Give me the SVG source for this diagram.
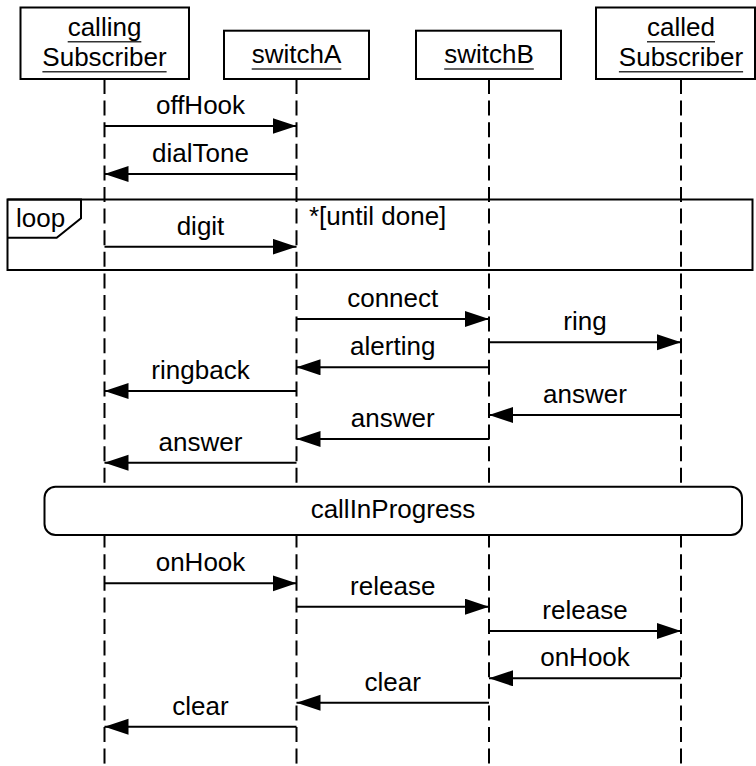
<svg xmlns="http://www.w3.org/2000/svg" width="756" height="766" viewBox="0 0 756 766">
  <style>
    text { font-family: "Liberation Sans", Arial, sans-serif; font-size: 26px; fill: #000; }
    .c { text-anchor: middle; }
    .box { fill: #fff; stroke: #000; stroke-width: 2; }
    .ul { stroke: #333; stroke-width: 1.5; }
    .life { stroke: #000; stroke-width: 2; stroke-dasharray: 15 6.6; fill: none; }
    .msg { stroke: #000; stroke-width: 2; fill: none; marker-end: url(#head); }
    .frame { fill: none; stroke: #000; stroke-width: 2; }
  </style>
  <defs>
    <marker id="head" markerUnits="userSpaceOnUse" markerWidth="26" markerHeight="18" refX="24" refY="8" orient="auto">
      <path d="M0,0 L24,8 L0,16 Z" fill="#000"/>
    </marker>
  </defs>

  <!-- lifelines -->
  <g id="lifelines">
    <line class="life" x1="104.5" y1="79" x2="104.5" y2="766"/>
    <line class="life" x1="296.5" y1="79" x2="296.5" y2="766"/>
    <line class="life" x1="489" y1="79" x2="489" y2="766"/>
    <line class="life" x1="681" y1="79" x2="681" y2="766"/>
  </g>

  <!-- participants -->
  <g id="callingSubscriber">
    <rect class="box" x="20.5" y="7.5" width="168.5" height="71.5"/>
    <text class="c" x="104.5" y="36">calling</text>
    <line class="ul" x1="67.7" y1="41.7" x2="141.3" y2="41.7"/>
    <text class="c" x="104.5" y="66">Subscriber</text>
    <line class="ul" x1="42.4" y1="71.7" x2="166.6" y2="71.7"/>
  </g>
  <g id="switchA">
    <rect class="box" x="224" y="30.7" width="145" height="48.3"/>
    <text class="c" x="296.5" y="63">switchA</text>
    <line class="ul" x1="251.7" y1="69" x2="341.3" y2="69"/>
  </g>
  <g id="switchB">
    <rect class="box" x="416" y="30.7" width="145" height="48.3"/>
    <text class="c" x="489" y="63">switchB</text>
    <line class="ul" x1="444.2" y1="69" x2="533.8" y2="69"/>
  </g>
  <g id="calledSubscriber">
    <rect class="box" x="596" y="7.5" width="159" height="71.5"/>
    <text class="c" x="681" y="36">called</text>
    <line class="ul" x1="647" y1="41.7" x2="715" y2="41.7"/>
    <text class="c" x="681" y="66">Subscriber</text>
    <line class="ul" x1="618.9" y1="71.7" x2="743.1" y2="71.7"/>
  </g>

  <!-- combined fragment: loop -->
  <g id="loopFragment">
    <rect class="frame" x="7.5" y="199.5" width="745" height="70.5"/>
    <path class="frame" d="M7.5,199.5 H81 V218.3 L56.7,237.7 H7.5"/>
    <text x="16" y="227">loop</text>
    <text x="309" y="225">*[until done]</text>
  </g>

  <!-- state invariant across all lifelines -->
  <g id="callInProgress">
    <rect class="box" x="44.5" y="486.7" width="697.5" height="48.3" rx="11" ry="11"/>
    <text class="c" x="393" y="518">callInProgress</text>
  </g>

  <!-- messages -->
  <g id="connectors">
    <line class="msg" x1="104.5" y1="126" x2="296.5" y2="126"/>
    <line class="msg" x1="296.5" y1="174" x2="104.5" y2="174"/>
    <line class="msg" x1="104.5" y1="246.7" x2="296.5" y2="246.7"/>
    <line class="msg" x1="296.5" y1="319" x2="489" y2="319"/>
    <line class="msg" x1="489" y1="342.3" x2="681" y2="342.3"/>
    <line class="msg" x1="489" y1="367.3" x2="296.5" y2="367.3"/>
    <line class="msg" x1="296.5" y1="391" x2="104.5" y2="391"/>
    <line class="msg" x1="681" y1="415" x2="489" y2="415"/>
    <line class="msg" x1="489" y1="439" x2="296.5" y2="439"/>
    <line class="msg" x1="296.5" y1="462.7" x2="104.5" y2="462.7"/>
    <line class="msg" x1="104.5" y1="583.3" x2="296.5" y2="583.3"/>
    <line class="msg" x1="296.5" y1="606.7" x2="489" y2="606.7"/>
    <line class="msg" x1="489" y1="631" x2="681" y2="631"/>
    <line class="msg" x1="681" y1="678.3" x2="489" y2="678.3"/>
    <line class="msg" x1="489" y1="702.7" x2="296.5" y2="702.7"/>
    <line class="msg" x1="296.5" y1="726.7" x2="104.5" y2="726.7"/>
  </g>

  <!-- message labels -->
  <g id="labels">
    <text class="c" x="200.5" y="114">offHook</text>
    <text class="c" x="200.5" y="162">dialTone</text>
    <text class="c" x="200.5" y="235">digit</text>
    <text class="c" x="392.75" y="307">connect</text>
    <text class="c" x="585" y="330">ring</text>
    <text class="c" x="392.75" y="355">alerting</text>
    <text class="c" x="200.5" y="379">ringback</text>
    <text class="c" x="585" y="403">answer</text>
    <text class="c" x="392.75" y="427">answer</text>
    <text class="c" x="200.5" y="451">answer</text>
    <text class="c" x="200.5" y="571">onHook</text>
    <text class="c" x="392.75" y="595">release</text>
    <text class="c" x="585" y="619">release</text>
    <text class="c" x="585" y="666">onHook</text>
    <text class="c" x="392.75" y="691">clear</text>
    <text class="c" x="200.5" y="715">clear</text>
  </g>
</svg>
